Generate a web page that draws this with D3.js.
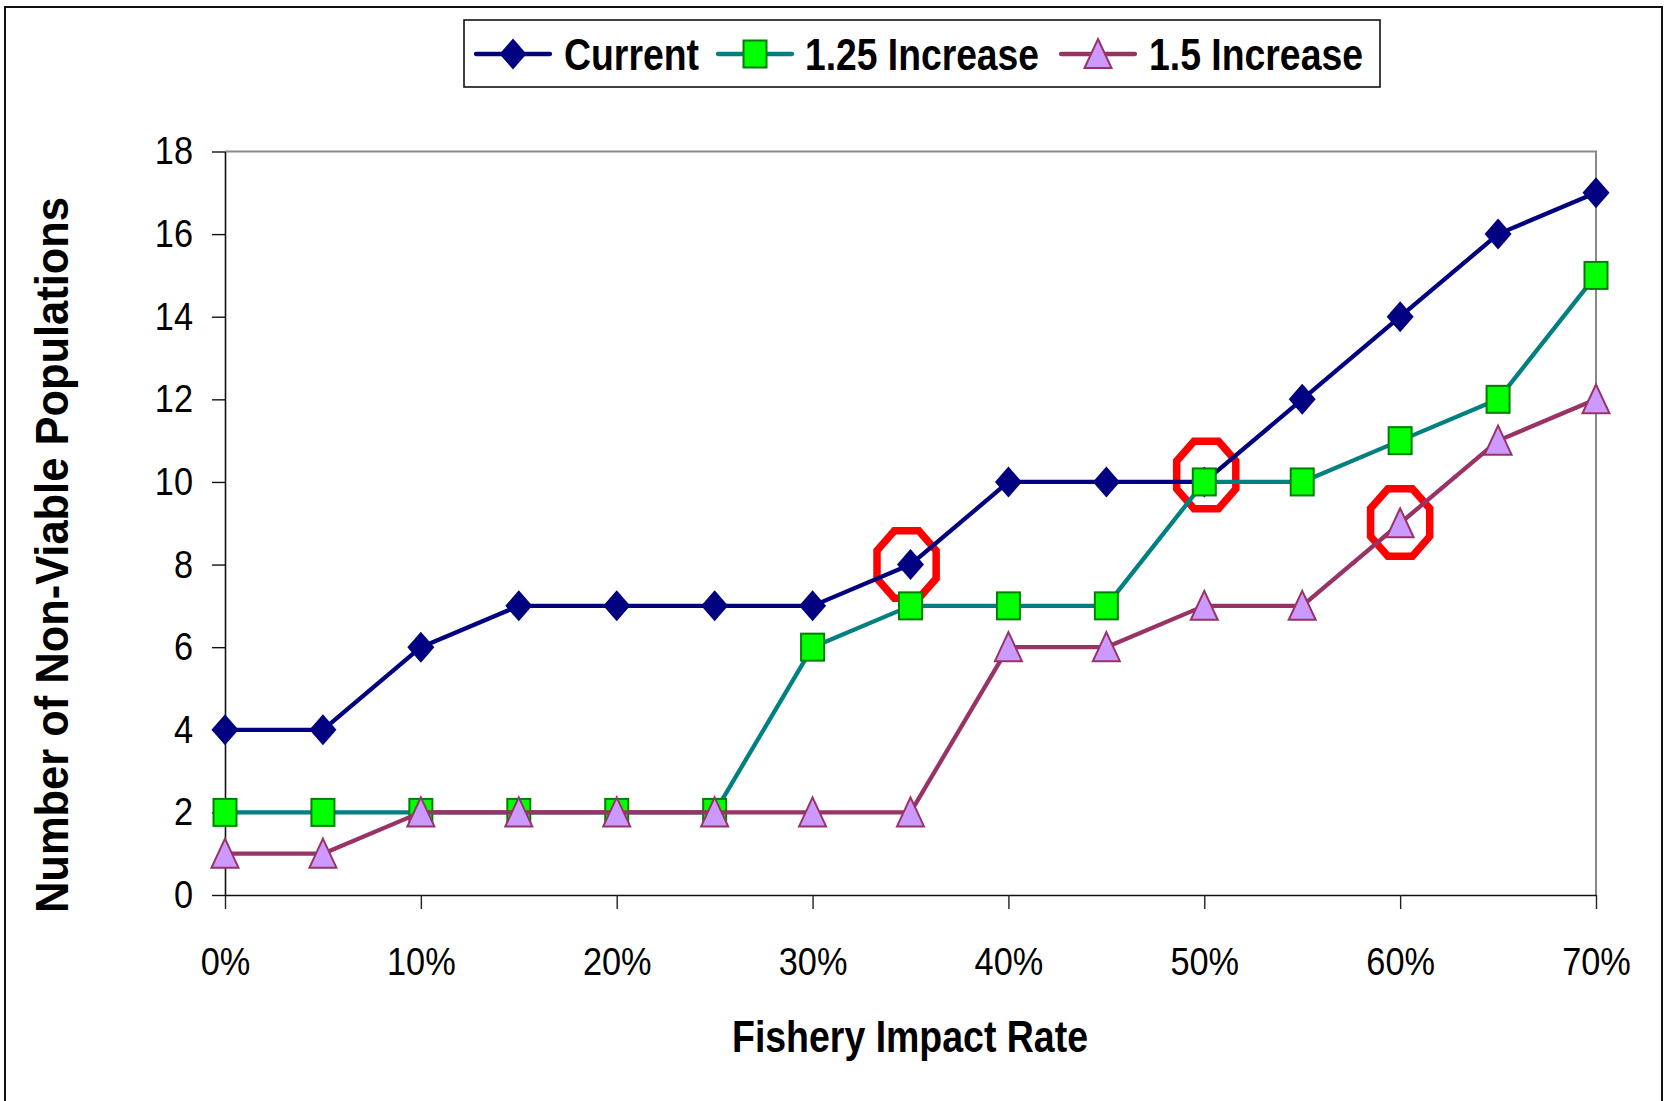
<!DOCTYPE html>
<html>
<head>
<meta charset="utf-8">
<script src="https://cdn.jsdelivr.net/npm/d3@7"></script>
<style>
  html, body { margin: 0; padding: 0; background: #fff; }
  svg { display: block; }
  text { font-family: "Liberation Sans", Arial, sans-serif; }
</style>
</head>
<body>
<svg id="chart" width="1668" height="1101"></svg>
<script>
// values
var impactRates = [0, 5, 10, 15, 20, 25, 30, 35, 40, 45, 50, 55, 60, 65, 70];
var current     = [4, 4, 6, 7, 7, 7, 7, 8, 10, 10, 10, 12, 14, 16, 17];
var increase125 = [2, 2, 2, 2, 2, 2, 6, 7, 7, 7, 10, 10, 11, 12, 15];
var increase15  = [1, 1, 2, 2, 2, 2, 2, 2, 6, 6, 7, 7, 9, 11, 12];
var xTicks = [0, 10, 20, 30, 40, 50, 60, 70];
var yTicks = [0, 2, 4, 6, 8, 10, 12, 14, 16, 18];
// hand drawn circles, centres in data units
var highlights = [{ x: 34.8, y: 8 }, { x: 50.1, y: 10.17 }, { x: 60, y: 9.02 }];
var seriesNames = ['Current', '1.25 Increase', '1.5 Increase'];

var svg = d3.select('#chart');
var sx = 0.88; // tick labels are a little narrow in the picture

var x = d3.scaleLinear().domain([0, 70]).range([225, 1596]);
var y = d3.scaleLinear().domain([0, 18]).range([895, 151.5]);

// outer frame
svg.append('rect')
    .attr('x', 5).attr('y', 7)
    .attr('width', 1657).attr('height', 1110)
    .attr('fill', 'none').attr('stroke', '#111').attr('stroke-width', 2);

// plot area border (top and right, grey)
svg.append('path')
    .attr('d', 'M' + x(0) + ',' + y(18) + 'H' + x(70) + 'V' + y(0))
    .attr('fill', 'none').attr('stroke', '#888').attr('stroke-width', 2);

// axes
var yAxis = svg.append('g')
    .attr('transform', 'translate(' + x(0) + ',0)')
    .call(d3.axisLeft(y).tickValues(yTicks).tickSize(13).tickSizeOuter(0));
yAxis.select('.domain').attr('stroke', '#111').attr('stroke-width', 1.6);
yAxis.selectAll('.tick line').attr('stroke', '#111').attr('stroke-width', 1.4);
yAxis.selectAll('text')
    .attr('x', -32 / sx)
    .attr('transform', 'scale(' + sx + ',1)')
    .attr('font-size', 39)
    .attr('font-family', '"Liberation Sans", Arial, sans-serif')
    .attr('fill', '#000');

var xAxis = svg.append('g')
    .attr('transform', 'translate(0,' + y(0) + ')')
    .call(d3.axisBottom(x).tickValues(xTicks).tickSize(14).tickSizeOuter(0)
        .tickFormat(function(d) { return d + '%'; }));
xAxis.select('.domain').attr('stroke', '#111').attr('stroke-width', 1.6);
xAxis.selectAll('.tick line').attr('stroke', '#222').attr('stroke-width', 1.4);
xAxis.selectAll('text')
    .attr('y', 80).attr('dy', null)
    .attr('transform', 'scale(' + sx + ',1)')
    .attr('font-size', 39)
    .attr('font-family', '"Liberation Sans", Arial, sans-serif')
    .attr('fill', '#000');

// axis titles
svg.append('text')
    .attr('x', 910).attr('y', 1052)
    .attr('text-anchor', 'middle')
    .attr('font-size', 44).attr('font-weight', 'bold')
    .attr('textLength', 356).attr('lengthAdjust', 'spacingAndGlyphs')
    .text('Fishery Impact Rate');

svg.append('text')
    .attr('transform', 'translate(68,555) rotate(-90)')
    .attr('text-anchor', 'middle')
    .attr('font-size', 46).attr('font-weight', 'bold')
    .attr('textLength', 716).attr('lengthAdjust', 'spacingAndGlyphs')
    .text('Number of Non-Viable Populations');

// red octagons behind the series
function octagon(rx, ry) {
    var pts = d3.range(8).map(function(k) {
        var a = Math.PI / 8 + k * Math.PI / 4;
        return [rx * Math.cos(a), ry * Math.sin(a)];
    });
    return 'M' + pts.join('L') + 'Z';
}
svg.append('g').selectAll('path')
    .data(highlights)
    .join('path')
    .attr('transform', function(d) { return 'translate(' + x(d.x) + ',' + y(d.y) + ')'; })
    .attr('d', octagon(32, 36.5))
    .attr('fill', 'none').attr('stroke', '#ff0000').attr('stroke-width', 7.5);

// marker shapes
function diamond(g) {
    g.append('path').attr('d', 'M0,-15.5L13.5,0L0,15.5L-13.5,0Z')
        .attr('fill', '#000080');
}
function square(g) {
    g.append('rect').attr('x', -11.5).attr('y', -13.5).attr('width', 23).attr('height', 27)
        .attr('fill', '#00ff00').attr('stroke', '#008000').attr('stroke-width', 2);
}
function triangle(g) {
    g.append('path').attr('d', 'M0,-15L13.5,14L-13.5,14Z')
        .attr('fill', '#cc99ff').attr('stroke', '#993366').attr('stroke-width', 2);
}

var series = [
    { name: seriesNames[0], values: current, line: '#000080', marker: diamond },
    { name: seriesNames[1], values: increase125, line: '#008080', marker: square },
    { name: seriesNames[2], values: increase15, line: '#993366', marker: triangle }
];

var line = d3.line()
    .x(function(d) { return x(d[0]); })
    .y(function(d) { return y(d[1]); });

series.forEach(function(s) {
    var pts = impactRates.map(function(r, i) { return [r, s.values[i]]; });
    var g = svg.append('g');
    g.append('path')
        .attr('d', line(pts))
        .attr('fill', 'none').attr('stroke', s.line).attr('stroke-width', 4.3)
        .attr('stroke-linejoin', 'round');
    g.selectAll('g.pt')
        .data(pts)
        .join('g')
        .attr('class', 'pt')
        .attr('transform', function(d) { return 'translate(' + x(d[0]) + ',' + y(d[1]) + ')'; })
        .each(function() { s.marker(d3.select(this)); });
});

// legend
var legend = svg.append('g');
legend.append('rect')
    .attr('x', 464).attr('y', 20).attr('width', 916).attr('height', 67)
    .attr('fill', '#fff').attr('stroke', '#111').attr('stroke-width', 1.6);

var legendItems = [
    { lineX: 476, text: 564, width: 135 },
    { lineX: 718, text: 805, width: 234 },
    { lineX: 1061, text: 1149, width: 214 }
];
series.forEach(function(s, i) {
    var it = legendItems[i];
    legend.append('line')
        .attr('x1', it.lineX).attr('x2', it.lineX + 74)
        .attr('y1', 54).attr('y2', 54)
        .attr('stroke', s.line).attr('stroke-width', 4.3).attr('stroke-linecap', 'round');
    var m = legend.append('g').attr('transform', 'translate(' + (it.lineX + 37) + ',54)');
    s.marker(m);
    legend.append('text')
        .attr('x', it.text).attr('y', 70)
        .attr('font-size', 44).attr('font-weight', 'bold')
        .attr('textLength', it.width).attr('lengthAdjust', 'spacingAndGlyphs')
        .text(s.name);
});
</script>
</body>
</html>
